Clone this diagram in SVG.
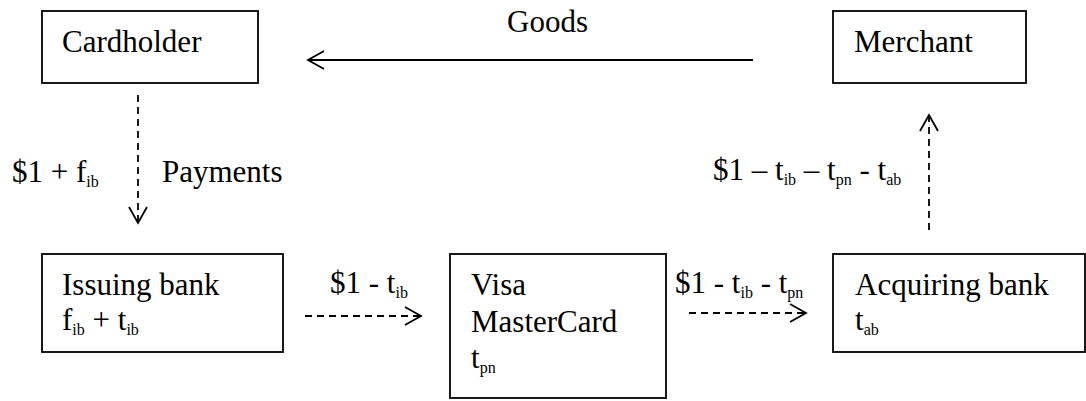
<svg xmlns="http://www.w3.org/2000/svg" width="1086" height="401" viewBox="0 0 1086 401">
<style>
.box{fill:#fff;stroke:#000;stroke-width:1.8}
.t{font-family:'Liberation Serif','Times New Roman',serif;font-size:31px;fill:#000}
.s{font-size:16px}
.ln{stroke:#000;stroke-width:1.8;fill:none}
.d{stroke-dasharray:7 5}
</style>
<defs>
<marker id="ah" markerUnits="userSpaceOnUse" viewBox="0 0 16 18" refX="16" refY="9" markerWidth="16" markerHeight="18" orient="auto" overflow="visible">
<path d="M0,0 L16,9 L0,18" fill="none" stroke="#000" stroke-width="1.8" stroke-dasharray="none"/>
</marker>
</defs>
<rect width="1086" height="401" fill="#fff"/>
<g id="cardholder"><rect class="box" x="42" y="11" width="216" height="72"/><text class="t" x="62" y="52">Cardholder</text></g>
<g id="merchant"><rect class="box" x="833" y="11" width="193" height="72"/><text class="t" x="854" y="52">Merchant</text></g>
<g id="issuing"><rect class="box" x="42" y="254" width="241" height="98"/><text class="t" x="62" y="295">Issuing bank</text><text class="t" x="62" y="330">f<tspan class="s" dy="5">ib</tspan><tspan dy="-5"> + t</tspan><tspan class="s" dy="5">ib</tspan></text></g>
<g id="network"><rect class="box" x="450" y="254" width="216" height="144"/><text class="t" x="471" y="295">Visa</text><text class="t" x="471" y="332">MasterCard</text><text class="t" x="471" y="368">t<tspan class="s" dy="5">pn</tspan></text></g>
<g id="acquiring"><rect class="box" x="833" y="254" width="252" height="98"/><text class="t" x="855" y="295">Acquiring bank</text><text class="t" x="855" y="330">t<tspan class="s" dy="5">ab</tspan></text></g>
<g id="connectors">
<line class="ln" x1="753" y1="60" x2="308" y2="60" marker-end="url(#ah)"/>
<text class="t" x="507" y="32">Goods</text>
<line class="ln d" x1="138" y1="95" x2="138" y2="223" marker-end="url(#ah)"/>
<text class="t" x="12" y="182">$1 + f<tspan class="s" dy="5">ib</tspan></text>
<text class="t" x="162" y="182">Payments</text>
<line class="ln d" x1="305" y1="316" x2="421" y2="316" marker-end="url(#ah)"/>
<text class="t" x="330" y="293">$1 - t<tspan class="s" dy="5">ib</tspan></text>
<line class="ln d" x1="689" y1="313" x2="806" y2="313" marker-end="url(#ah)"/>
<text class="t" x="675" y="293">$1 - t<tspan class="s" dy="5">ib</tspan><tspan dy="-5"> - t</tspan><tspan class="s" dy="5">pn</tspan></text>
<line class="ln d" x1="929" y1="230" x2="929" y2="115" marker-end="url(#ah)"/>
<text class="t" x="713" y="180">$1 – t<tspan class="s" dy="5">ib</tspan><tspan dy="-5"> – t</tspan><tspan class="s" dy="5">pn</tspan><tspan dy="-5"> - t</tspan><tspan class="s" dy="5">ab</tspan></text>
</g>
</svg>
